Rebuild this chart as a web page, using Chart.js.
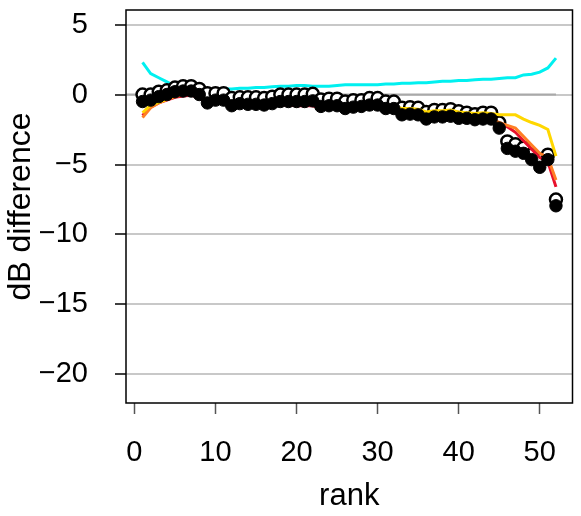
<!DOCTYPE html>
<html>
<head>
<meta charset="utf-8">
<script src="https://cdn.jsdelivr.net/npm/chart.js@4"></script>
<style>
  html, body { margin: 0; padding: 0; background: #fff; }
  canvas { display: block; }
</style>
</head>
<body>
<canvas id="chart" width="581" height="516"></canvas>
<script>
// x categories (rank)
const ranks = [1, 2, 3, 4, 5, 6, 7, 8, 9, 10, 11, 12, 13, 14, 15, 16, 17, 18, 19, 20,
  21, 22, 23, 24, 25, 26, 27, 28, 29, 30, 31, 32, 33, 34, 35, 36, 37, 38, 39, 40,
  41, 42, 43, 44, 45, 46, 47, 48, 49, 50, 51, 52];

// series (dB)
const cyanLine = [2.3, 1.5, 1.2, 0.9, 0.6, 0.45, 0.4, 0.35, 0.35, 0.4, 0.4, 0.4, 0.45, 0.45, 0.5, 0.5,
  0.55, 0.6, 0.6, 0.65, 0.65, 0.6, 0.6, 0.6, 0.65, 0.7, 0.7, 0.7, 0.7, 0.7, 0.75, 0.75, 0.8, 0.8,
  0.85, 0.85, 0.9, 0.95, 0.95, 1.0, 1.0, 1.05, 1.1, 1.1, 1.15, 1.2, 1.2, 1.4, 1.45, 1.6, 1.9, 2.6];
const yellowLine = [-1.3, -0.75, -0.55, -0.35, -0.1, 0.05, 0.1, -0.05, -0.45, -0.35, -0.35, -0.6, -0.6,
  -0.6, -0.6, -0.65, -0.55, -0.45, -0.45, -0.45, -0.45, -0.4, -0.7, -0.65, -0.65, -0.85, -0.75, -0.7,
  -0.6, -0.6, -0.85, -0.85, -1.0, -1.0, -1.05, -1.25, -1.15, -1.15, -1.1, -1.25, -1.3, -1.35, -1.3,
  -1.35, -1.45, -1.45, -1.45, -1.75, -2.0, -2.2, -2.5, -4.4];
const orangeLine = [-1.65, -0.95, -0.6, -0.35, -0.15, 0.0, 0.05, -0.1, -0.55, -0.45, -0.45, -0.75, -0.7,
  -0.7, -0.7, -0.75, -0.65, -0.55, -0.55, -0.55, -0.55, -0.5, -0.85, -0.8, -0.8, -1.0, -0.9, -0.85,
  -0.75, -0.75, -1.0, -1.0, -1.35, -1.3, -1.35, -1.6, -1.5, -1.5, -1.45, -1.6, -1.65, -1.7, -1.65,
  -1.7, -2.0, -2.2, -2.4, -3.0, -3.6, -4.2, -4.5, -6.1];
const redLine = [-1.5, -0.9, -0.6, -0.4, -0.2, -0.1, -0.05, -0.2, -0.65, -0.55, -0.55, -0.85, -0.8,
  -0.8, -0.85, -0.9, -0.85, -0.75, -0.75, -0.8, -0.8, -0.8, -1.0, -0.95, -0.95, -1.1, -1.0, -0.95,
  -0.85, -0.85, -1.1, -1.1, -1.45, -1.4, -1.45, -1.7, -1.6, -1.6, -1.55, -1.7, -1.75, -1.8, -1.75,
  -1.8, -2.1, -2.3, -2.7, -3.3, -3.9, -4.5, -4.8, -6.6];
const openPoints = [0.0, 0.0, 0.2, 0.3, 0.5, 0.6, 0.6, 0.4, 0.1, 0.1, 0.1, -0.25, -0.2, -0.2, -0.2,
  -0.25, -0.15, 0.0, 0.0, 0.0, 0.0, 0.05, -0.35, -0.3, -0.3, -0.5, -0.4, -0.4, -0.25, -0.25, -0.5,
  -0.5, -0.95, -0.9, -0.95, -1.25, -1.1, -1.1, -1.05, -1.2, -1.3, -1.4, -1.3, -1.3, -2.0, -3.35,
  -3.55, -3.8, -4.3, -4.65, -4.3, -7.5];
const filledPoints = [-0.5, -0.4, -0.15, 0.0, 0.2, 0.25, 0.25, 0.0, -0.6, -0.4, -0.4, -0.8, -0.65,
  -0.7, -0.7, -0.75, -0.65, -0.5, -0.5, -0.5, -0.5, -0.45, -0.85, -0.8, -0.8, -1.0, -0.9, -0.85,
  -0.75, -0.75, -1.0, -1.0, -1.45, -1.4, -1.45, -1.75, -1.6, -1.6, -1.55, -1.7, -1.7, -1.8, -1.75,
  -1.75, -2.4, -3.85, -4.05, -4.2, -4.65, -5.2, -4.65, -7.95];

// reference line at 0
const zeroLineX = [-1.04, 52];
const zeroLineY = [0, 0];

// axes
const xTicks = [0, 10, 20, 30, 40, 50];
const yTicks = [5, 0, -5, -10, -15, -20];
const xRange = [-1.04, 54.04];
const yRange = [-22.04, 6.04];

const toPoints = (xs, ys) => xs.map((x, i) => ({ x: x, y: ys[i] }));
const minus = v => String(v).replace('-', '\u2212');

function lineSet(label, values, color, order) {
    return {
        label: label,
        data: toPoints(ranks, values),
        borderColor: color,
        borderWidth: 3,
        pointRadius: 0,
        fill: false,
        tension: 0,
        order: order
    };
}

// box round the plot region
const boxPlugin = {
    id: 'box',
    afterDraw(chart) {
        const { ctx, chartArea } = chart;
        ctx.save();
        ctx.strokeStyle = '#000';
        ctx.lineWidth = 1.5;
        ctx.strokeRect(chartArea.left, chartArea.top,
            chartArea.right - chartArea.left, chartArea.bottom - chartArea.top);
        ctx.restore();
    }
};

const font = 'Liberation Sans, Arial, Helvetica, sans-serif';

new Chart(document.getElementById('chart'), {
    type: 'line',
    data: {
        datasets: [
            {
                label: 'zero',
                data: toPoints(zeroLineX, zeroLineY),
                borderColor: '#a9a9a9',
                borderWidth: 2,
                pointRadius: 0,
                order: 9
            },
            lineSet('cyan', cyanLine, '#00f0f0', 8),
            {
                label: 'open',
                data: toPoints(ranks, openPoints),
                showLine: false,
                pointRadius: 6,
                pointBorderWidth: 2.5,
                pointBackgroundColor: '#fff',
                pointBorderColor: '#000',
                order: 7
            },
            lineSet('red', redLine, '#e8112d', 6),
            lineSet('orange', orangeLine, '#ff7f24', 5),
            lineSet('yellow', yellowLine, '#ffd700', 4),
            {
                label: 'filled',
                data: toPoints(ranks, filledPoints),
                showLine: false,
                pointRadius: 6.2,
                pointBorderWidth: 1,
                pointBackgroundColor: '#000',
                pointBorderColor: '#000',
                order: 1
            }
        ]
    },
    options: {
        responsive: false,
        devicePixelRatio: 1,
        animation: false,
        layout: { padding: { left: 0, right: 6, top: 10, bottom: 0 } },
        plugins: { legend: { display: false }, tooltip: { enabled: false } },
        scales: {
            x: {
                type: 'linear',
                min: xRange[0],
                max: xRange[1],
                afterBuildTicks: scale => { scale.ticks = xTicks.map(v => ({ value: v })); },
                afterFit: scale => {
                    scale.height = 113;
                    scale.paddingLeft = 0;
                    scale.paddingRight = 0;
                },
                border: { display: false },
                grid: { drawOnChartArea: false, drawTicks: true, tickLength: 11, tickColor: '#555', tickWidth: 1.5 },
                ticks: { padding: 22, color: '#000', maxRotation: 0, font: { family: font, size: 29 }, callback: minus },
                title: { display: true, text: 'rank', color: '#000', padding: { top: 0, bottom: 1 }, font: { family: font, size: 31 } }
            },
            y: {
                type: 'linear',
                min: yRange[0],
                max: yRange[1],
                afterBuildTicks: scale => { scale.ticks = yTicks.map(v => ({ value: v })); },
                afterFit: scale => {
                    scale.width = 126;
                    scale.paddingTop = 0;
                    scale.paddingBottom = 0;
                },
                border: { display: false },
                grid: { color: '#c8c8c8', lineWidth: 2, drawTicks: true, tickLength: 11, tickColor: '#000', tickWidth: 1.5 },
                ticks: { padding: 27, color: '#000', font: { family: font, size: 29 }, callback: minus },
                title: { display: true, text: 'dB difference', color: '#000', padding: { top: 2, bottom: 0 }, font: { family: font, size: 32 } }
            }
        }
    },
    plugins: [boxPlugin]
});
</script>
</body>
</html>
